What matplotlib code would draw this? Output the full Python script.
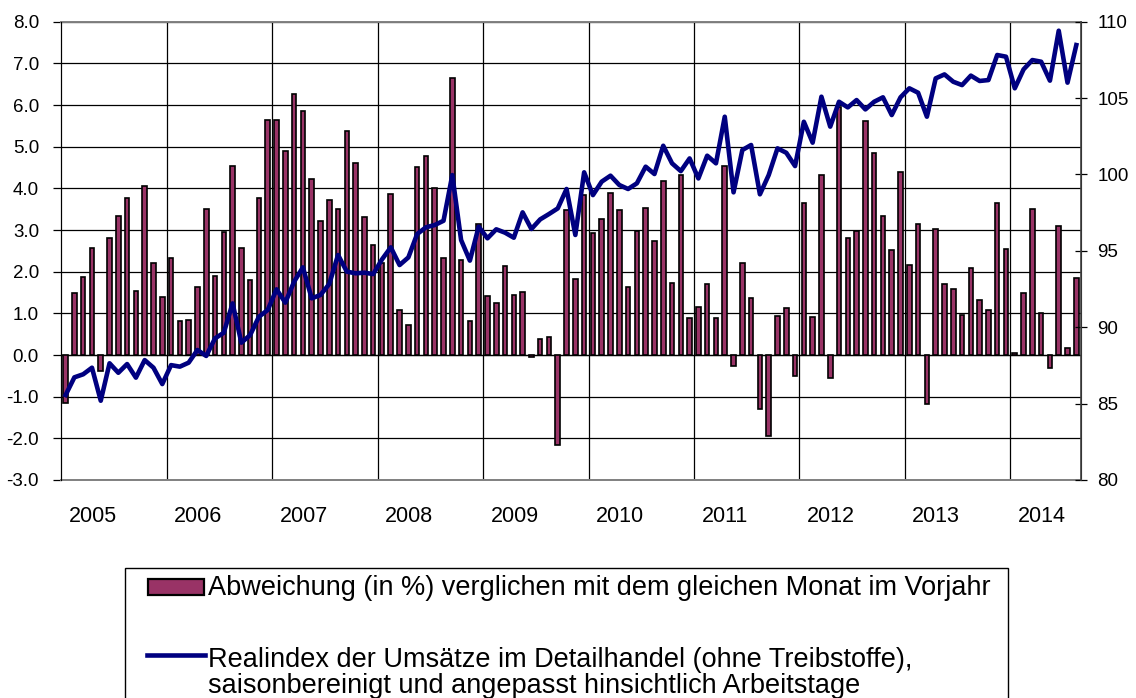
import matplotlib
matplotlib.use('Agg')
import matplotlib.pyplot as plt
from matplotlib.patches import Rectangle
from matplotlib.lines import Line2D
import numpy as np

plt.rcParams['font.family'] = ['Liberation Sans', 'DejaVu Sans']

# monthly data Jan 2005 - Aug 2014
years = ['2005', '2006', '2007', '2008', '2009', '2010', '2011', '2012', '2013', '2014']

# deviation vs same month of previous year (%)
abweichung = [
    -1.14, 1.50, 1.87, 2.56, -0.38, 2.80, 3.34, 3.76, 1.53, 4.05, 2.20, 1.39,
    2.32, 0.82, 0.85, 1.63, 3.51, 1.90, 2.95, 4.54, 2.58, 1.81, 3.77, 5.64,
    5.64, 4.89, 6.27, 5.85, 4.23, 3.22, 3.71, 3.51, 5.37, 4.62, 3.32, 2.64,
    2.22, 3.87, 1.08, 0.71, 4.51, 4.78, 4.02, 2.32, 6.64, 2.29, 0.82, 3.14,
    1.42, 1.25, 2.14, 1.44, 1.51, -0.04, 0.38, 0.44, -2.16, 3.48, 1.83, 3.84,
    2.94, 3.26, 3.88, 3.48, 1.64, 2.98, 3.52, 2.74, 4.18, 1.74, 4.32, 0.90,
    1.16, 1.70, 0.89, 4.54, -0.26, 2.22, 1.38, -1.30, -1.94, 0.94, 1.14, -0.50,
    3.66, 0.92, 4.31, -0.56, 5.96, 2.81, 2.98, 5.62, 4.84, 3.33, 2.52, 4.39,
    2.15, 3.14, -1.18, 3.02, 1.70, 1.59, 0.96, 2.10, 1.32, 1.08, 3.66, 2.54,
    0.04, 1.48, 3.50, 1.00, -0.30, 3.10, 0.16, 1.84,
]

# real retail sales index (excl. fuel), seasonally and working-day adjusted
realindex = [
    85.56, 86.72, 86.92, 87.35, 85.19, 87.64, 87.02, 87.59, 86.70, 87.85, 87.35, 86.28,
    87.52, 87.42, 87.68, 88.51, 88.12, 89.27, 89.64, 91.56, 88.99, 89.49, 90.69, 91.13,
    92.48, 91.61, 92.98, 93.92, 91.89, 92.11, 92.83, 94.73, 93.64, 93.53, 93.57, 93.48,
    94.44, 95.23, 94.07, 94.57, 96.10, 96.54, 96.69, 96.97, 99.96, 95.71, 94.36, 96.58,
    95.82, 96.41, 96.19, 95.86, 97.52, 96.43, 97.06, 97.41, 97.78, 99.05, 96.04, 100.14,
    98.65, 99.53, 99.92, 99.31, 99.05, 99.42, 100.51, 100.03, 101.88, 100.73, 100.22, 101.05,
    99.74, 101.23, 100.73, 103.78, 98.83, 101.60, 101.93, 98.70, 99.96, 101.71, 101.42, 100.55,
    103.45, 102.08, 105.09, 103.13, 104.76, 104.39, 104.87, 104.26, 104.76, 105.05, 103.89, 105.05,
    105.64, 105.35, 103.78, 106.29, 106.55, 106.07, 105.85, 106.47, 106.12, 106.18, 107.82, 107.71,
    105.64, 106.88, 107.49, 107.38, 106.14, 109.41, 106.01, 108.47,
]

label_bar = 'Abweichung (in %) verglichen mit dem gleichen Monat im Vorjahr'
label_line1 = 'Realindex der Umsätze im Detailhandel (ohne Treibstoffe),'
label_line2 = 'saisonbereinigt und angepasst hinsichtlich Arbeitstage'

bar_col = '#993366'
line_col = '#000080'

n = len(abweichung)
x = np.arange(n)

fig = plt.figure(figsize=(11.36, 6.98), dpi=100)
ax = fig.add_axes([61.2 / 1136, 1 - 480 / 698, 1019.5 / 1136, 458.3 / 698])

ax.bar(x, abweichung, width=0.52, color=bar_col, edgecolor='black', linewidth=1.2, zorder=3)
ax.set_xlim(-0.5, n - 0.5)
ax.set_ylim(-3, 8)
ax.set_yticks(np.arange(-3, 9, 1))
ax.set_yticklabels([f'{v:.1f}' for v in np.arange(-3, 9, 1)], fontsize=13.5)
ax.yaxis.grid(True, color='black', linewidth=0.9)

# year boundaries -> gridlines, year labels slightly left of the year centre
bounds = np.arange(11.5, n, 12)
for b in bounds:
    ax.axvline(b, color='black', linewidth=0.9, zorder=0)
ax.set_axisbelow(True)
label_pos = [i * 12 + 3.07 for i in range(len(years))]
ax.set_xticks(label_pos)
ax.set_xticklabels(years, fontsize=15.5)
ax.tick_params(axis='x', length=0, pad=19)
ax.tick_params(axis='y', length=6, width=0.9, direction='out', pad=10)
ax.axhline(0, color='black', linewidth=0.9, zorder=2)

for side in ['top', 'bottom']:
    ax.spines[side].set_color('#808080')
    ax.spines[side].set_linewidth(1.4)
ax.spines['left'].set_color('black')
ax.spines['right'].set_color('black')

ax2 = ax.twinx()
ax2.plot(x, realindex, color=line_col, linewidth=3.3, zorder=4)
ax2.set_ylim(80, 110)
ax2.set_yticks(np.arange(80, 111, 5))
ax2.set_yticklabels([str(v) for v in range(80, 111, 5)], fontsize=13.5)
ax2.tick_params(axis='y', length=8, width=0.9, direction='inout', pad=8)
for side in ['top', 'bottom']:
    ax2.spines[side].set_visible(False)
ax2.spines['right'].set_color('#404040')
ax2.spines['right'].set_linewidth(1.2)

# legend box (cut at the bottom of the image)
def fx(px):
    return px / 1136

def fy(py):
    return 1 - py / 698

fig.add_artist(Rectangle((fx(125), fy(740)), fx(1008) - fx(125), fy(568) - fy(740),
                         transform=fig.transFigure, facecolor='white',
                         edgecolor='black', linewidth=1.0))
fig.add_artist(Rectangle((fx(148), fy(595)), fx(204) - fx(148), fy(579) - fy(595),
                         transform=fig.transFigure, facecolor=bar_col,
                         edgecolor='black', linewidth=1.6))
fig.add_artist(Line2D([fx(147), fx(205)], [fy(655), fy(655)],
                      transform=fig.transFigure, color=line_col, linewidth=3.3))
fig.text(fx(208), fy(588), label_bar, fontsize=19.5, ha='left', va='center')
fig.text(fx(208), fy(660), label_line1, fontsize=19.5, ha='left', va='center')
fig.text(fx(208), fy(686), label_line2, fontsize=19.5, ha='left', va='center')

fig.savefig('out.png', dpi=100)
